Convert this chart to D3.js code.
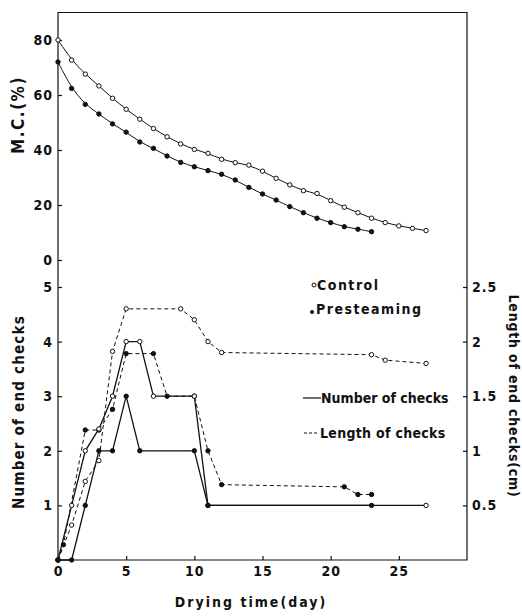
<!DOCTYPE html>
<html>
<head>
<meta charset="utf-8">
<script src="https://cdn.jsdelivr.net/npm/d3@7"></script>
<style>
  body { margin: 0; background: #fff; }
  text { font-family: 'Liberation Sans Narrow', 'DejaVu Sans Condensed', 'Liberation Sans', sans-serif; font-weight: bold; fill: #111; }
</style>
</head>
<body>
<script>
// moisture content, one point per day
var controlMCDays = d3.range(0, 28)
var controlMC = [80, 72.7, 67.6, 63.3, 58.8, 54.8, 51.2, 47.8, 44.8, 42.2, 40.2, 38.8, 36.6, 35.4,
  34.5, 32.3, 29.7, 27.3, 25.2, 24.2, 21.6, 19.2, 17.2, 15.2, 13.6, 12.4, 11.5, 10.7]
var presteamMCDays = d3.range(0, 24)
var presteamMC = [72, 62.4, 56.6, 53.1, 49.5, 46.5, 42.9, 40.6, 37.8, 35.5, 33.9, 32.5, 31.2, 29.1,
  26.4, 24, 21.8, 19.4, 17.2, 15.2, 13.6, 12.1, 11.2, 10.3]

// end checks
var ctrlNumDays = [0, 1, 2, 3, 4, 5, 6, 7, 10, 11, 27]
var ctrlNum = [0, 1, 2, 2.4, 3, 4, 4, 3, 3, 1, 1]
var presNumDays = [0, 1, 2, 3, 4, 5, 6, 10, 11, 23]
var presNum = [0, 0, 1, 2, 2, 3, 2, 2, 1, 1]
var ctrlLenDays = [0, 1, 2, 3, 4, 5, 9, 10, 11, 12, 23, 24, 27]
var ctrlLen = [0, 0.32, 0.72, 0.91, 1.91, 2.3, 2.3, 2.2, 2.0, 1.9, 1.88, 1.83, 1.8]
var presLenDays = [0, 0.4, 2, 3, 4, 5, 7, 8, 10, 11, 12, 21, 22, 23]
var presLen = [0, 0.14, 1.19, 1.19, 1.38, 1.89, 1.89, 1.5, 1.5, 1.0, 0.69, 0.67, 0.6, 0.6]

var dayTicks = [0, 5, 10, 15, 20, 25]
var mcTicks = [0, 20, 40, 60, 80]
var numTicks = [1, 2, 3, 4, 5]
var lenTicks = [0.5, 1, 1.5, 2, 2.5]

var plotLeft = 58
var plotRight = 467
var plotTop = 12.5
var plotBottom = 560

var svg = d3
  .select('body')
  .append('svg')
  .attr('width', 522)
  .attr('height', 616)

var x = d3.scaleLinear().domain([0, 30]).range([plotLeft, plotRight])
var yMC = d3.scaleLinear().domain([0, 90]).range([260, plotTop])
var yNum = d3.scaleLinear().domain([0, 5]).range([plotBottom, 287])
var yLen = d3.scaleLinear().domain([0, 2.5]).range([plotBottom, 287])

function pairs(days, vals) {
  return days.map((d, i) => ({ day: d, v: vals[i] }))
}

// frame
svg
  .append('path')
  .attr('d', 'M' + plotLeft + ',' + plotTop + 'H' + plotRight + 'V' + plotBottom + 'H' + plotLeft + 'Z')
  .attr('fill', 'none')
  .attr('stroke', '#111')
  .attr('stroke-width', 1.2)

// axes, ticks inward
function styleAxis(g) {
  g.select('.domain').remove()
  g.selectAll('line').attr('stroke', '#111').attr('stroke-width', 1.2)
  g.selectAll('text')
    .attr('font-size', 14)
    .attr('letter-spacing', 1)
    .style('font-family', null)
}

svg
  .append('g')
  .attr('transform', 'translate(' + plotLeft + ',0)')
  .call(d3.axisLeft(yMC).tickValues(mcTicks).tickFormat(d => d).tickSize(-4).tickPadding(5))
  .call(styleAxis)

svg
  .append('g')
  .attr('transform', 'translate(' + plotLeft + ',0)')
  .call(d3.axisLeft(yNum).tickValues(numTicks).tickFormat(d => d).tickSize(-4).tickPadding(5))
  .call(styleAxis)

svg
  .append('g')
  .attr('transform', 'translate(' + plotRight + ',0)')
  .call(d3.axisRight(yLen).tickValues(lenTicks).tickFormat(d => d).tickSize(-4).tickPadding(5))
  .call(styleAxis)

svg
  .append('g')
  .attr('transform', 'translate(0,' + plotBottom + ')')
  .call(d3.axisBottom(x).tickValues(dayTicks).tickFormat(d => d).tickSize(-4).tickPadding(6))
  .call(styleAxis)

// moisture content curves
var mcLine = d3
  .line()
  .x(d => x(d.day))
  .y(d => yMC(d.v))
  .curve(d3.curveBasis)

var mcSeries = [
  { data: pairs(controlMCDays, controlMC), open: true },
  { data: pairs(presteamMCDays, presteamMC), open: false }
]

mcSeries.forEach(s => {
  svg
    .append('path')
    .datum(s.data)
    .attr('d', mcLine)
    .attr('fill', 'none')
    .attr('stroke', '#111')
    .attr('stroke-width', 1)

  svg
    .append('g')
    .selectAll('circle')
    .data(s.data)
    .enter()
    .append('circle')
    .attr('cx', d => x(d.day))
    .attr('cy', d => yMC(d.v))
    .attr('r', 2.2)
    .attr('fill', s.open ? '#fff' : '#111')
    .attr('stroke', '#111')
    .attr('stroke-width', 1)
})

// end check lines
var checkSeries = [
  { data: pairs(ctrlLenDays, ctrlLen), y: yLen, open: true, dash: '4,3' },
  { data: pairs(presLenDays, presLen), y: yLen, open: false, dash: '4,3' },
  { data: pairs(ctrlNumDays, ctrlNum), y: yNum, open: true, dash: null },
  { data: pairs(presNumDays, presNum), y: yNum, open: false, dash: null }
]

checkSeries.forEach(s => {
  var line = d3
    .line()
    .x(d => x(d.day))
    .y(d => s.y(d.v))

  svg
    .append('path')
    .datum(s.data)
    .attr('d', line)
    .attr('fill', 'none')
    .attr('stroke', '#111')
    .attr('stroke-width', s.dash ? 1 : 1.3)
    .attr('stroke-dasharray', s.dash)
})

checkSeries.forEach(s => {
  svg
    .append('g')
    .selectAll('circle')
    .data(s.data)
    .enter()
    .append('circle')
    .attr('cx', d => x(d.day))
    .attr('cy', d => s.y(d.v))
    .attr('r', 2.2)
    .attr('fill', s.open ? '#fff' : '#111')
    .attr('stroke', '#111')
    .attr('stroke-width', 1)
})

// legend
var legend = svg.append('g')

legend
  .append('circle')
  .attr('cx', 314)
  .attr('cy', 285)
  .attr('r', 2)
  .attr('fill', '#fff')
  .attr('stroke', '#111')
legend
  .append('text')
  .attr('x', 317)
  .attr('y', 290)
  .attr('font-size', 14)
  .attr('letter-spacing', 1.5)
  .text('Control')

legend
  .append('circle')
  .attr('cx', 312)
  .attr('cy', 312)
  .attr('r', 2)
  .attr('fill', '#111')
legend
  .append('text')
  .attr('x', 316)
  .attr('y', 314)
  .attr('font-size', 14)
  .attr('letter-spacing', 1.5)
  .text('Presteaming')

legend
  .append('line')
  .attr('x1', 303)
  .attr('x2', 321)
  .attr('y1', 398)
  .attr('y2', 398)
  .attr('stroke', '#111')
  .attr('stroke-width', 1.2)
legend
  .append('text')
  .attr('x', 321)
  .attr('y', 403)
  .attr('font-size', 14)
  .attr('letter-spacing', 0)
  .text('Number of checks')

legend
  .append('line')
  .attr('x1', 304)
  .attr('x2', 319)
  .attr('y1', 433)
  .attr('y2', 433)
  .attr('stroke', '#111')
  .attr('stroke-width', 1)
  .attr('stroke-dasharray', '3,2')
legend
  .append('text')
  .attr('x', 320)
  .attr('y', 438)
  .attr('font-size', 14)
  .attr('letter-spacing', 0.3)
  .text('Length of checks')

// axis titles
svg
  .append('text')
  .attr('transform', 'translate(24,115) rotate(-90)')
  .attr('text-anchor', 'middle')
  .attr('font-size', 17)
  .attr('letter-spacing', 1.5)
  .text('M.C.(%)')

svg
  .append('text')
  .attr('transform', 'translate(24,412) rotate(-90)')
  .attr('text-anchor', 'middle')
  .attr('font-size', 15)
  .attr('letter-spacing', 1.2)
  .text('Number of end checks')

svg
  .append('text')
  .attr('transform', 'translate(509,396) rotate(90)')
  .attr('text-anchor', 'middle')
  .attr('font-size', 14)
  .attr('letter-spacing', 0.8)
  .text('Length of end checks(cm)')

svg
  .append('text')
  .attr('x', 251)
  .attr('y', 607)
  .attr('text-anchor', 'middle')
  .attr('font-size', 14)
  .attr('letter-spacing', 2)
  .text('Drying time(day)')
</script>
</body>
</html>
